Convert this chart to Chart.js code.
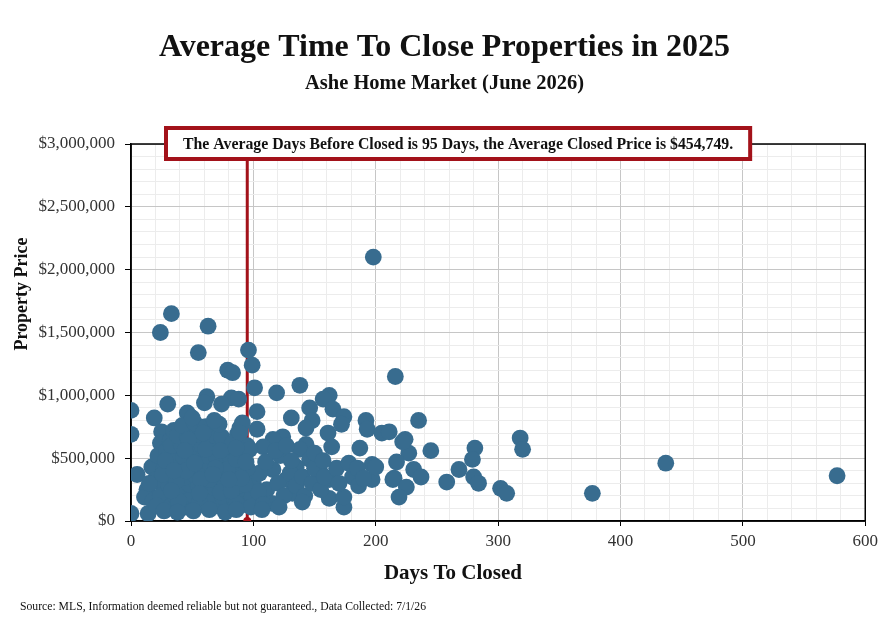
<!DOCTYPE html>
<html>
<head>
<meta charset="utf-8">
<title>Average Time To Close Properties in 2025</title>
<script src="https://cdn.jsdelivr.net/npm/chart.js@4.4.1/dist/chart.umd.min.js"></script>
<style>
html, body { margin:0; padding:0; background:#fff; }
#wrap { width:883px; height:622px; }
</style>
</head>
<body>
<div id="wrap"><canvas id="grafico" width="883" height="622"></canvas></div>
<script>
// -------------------------------------------
//  DATA
// -------------------------------------------

var daysToClose = [
    0, 0, 5, 0, 14, 19, 25, 24, 17, 13,
    11, 28, 30, 22, 20, 18, 26, 27, 24, 15,
    21, 29, 32, 35, 33, 24, 63, 55, 96, 99,
    79, 83, 62, 82, 74, 60, 46, 88, 103, 101,
    33, 45, 58, 70, 84, 36, 42, 50, 63, 75,
    90, 31, 40, 48, 55, 67, 78, 88, 34, 44,
    52, 60, 72, 81, 93, 30, 39, 47, 57, 65,
    76, 86, 36, 43, 53, 62, 70, 80, 91, 33,
    41, 50, 58, 68, 78, 38, 46, 55, 65, 74,
    87, 42, 52, 61, 72, 89, 50, 68, 56, 39,
    85, 92, 73, 26, 37, 64, 79, 47, 59, 83,
    95, 119, 138, 162, 157, 131, 146, 148, 143, 165,
    174, 172, 192, 193, 205, 161, 164, 187, 143, 138,
    124, 116, 103, 91, 89, 108, 97, 86, 162, 174,
    174, 197, 197, 214, 181, 162, 154, 146, 135, 127,
    116, 111, 132, 115, 99, 86, 100, 105, 110, 120,
    122, 125, 130, 135, 140, 142, 148, 150, 155, 158,
    168, 170, 178, 185, 186, 190, 200, 150, 157, 104,
    95, 93, 98, 108, 140, 131, 118, 127, 235, 224,
    227, 245, 217, 215, 225, 219, 231, 237, 258, 268,
    281, 279, 280, 284, 302, 307, 318, 320, 211, 216,
    198, 377, 437, 577, 222, 27, 38, 51, 64, 77,
    86, 107, 121, 33, 45, 57, 69, 82, 94, 28,
    61, 73, 86, 44, 52, 35, 67, 90, 56, 80
]

var closedPrices = [
    880000, 690000, 370000, 60000, 60000, 820000, 710000, 620000, 430000, 250000,
    190000, 90000, 930000, 520000, 330000, 160000, 280000, 420000, 200000, 300000,
    120000, 560000, 640000, 720000, 1650000, 1500000, 1550000, 1340000, 1360000, 1240000,
    1200000, 1180000, 990000, 980000, 930000, 940000, 860000, 970000, 870000, 1060000,
    120000, 110000, 130000, 120000, 110000, 200000, 190000, 210000, 200000, 190000,
    210000, 280000, 270000, 290000, 280000, 270000, 290000, 280000, 360000, 350000,
    370000, 360000, 350000, 370000, 360000, 440000, 450000, 430000, 440000, 450000,
    430000, 440000, 520000, 510000, 530000, 520000, 510000, 530000, 520000, 600000,
    610000, 590000, 600000, 610000, 590000, 680000, 670000, 690000, 680000, 670000,
    690000, 760000, 780000, 750000, 770000, 740000, 820000, 800000, 150000, 160000,
    160000, 130000, 230000, 370000, 320000, 330000, 410000, 650000, 700000, 620000,
    600000, 1020000, 1080000, 1000000, 970000, 820000, 900000, 800000, 740000, 890000,
    830000, 770000, 800000, 730000, 700000, 700000, 590000, 580000, 610000, 570000,
    670000, 650000, 730000, 780000, 700000, 590000, 570000, 490000, 180000, 110000,
    190000, 450000, 330000, 330000, 350000, 330000, 410000, 490000, 430000, 330000,
    410000, 250000, 220000, 140000, 190000, 140000, 300000, 380000, 470000, 300000,
    520000, 200000, 380000, 280000, 350000, 200000, 300000, 420000, 250000, 350000,
    420000, 300000, 460000, 420000, 280000, 340000, 430000, 540000, 480000, 230000,
    420000, 290000, 110000, 130000, 150000, 480000, 560000, 600000, 800000, 650000,
    540000, 560000, 470000, 340000, 270000, 190000, 410000, 350000, 310000, 410000,
    580000, 490000, 350000, 300000, 260000, 220000, 660000, 570000, 710000, 1150000,
    2100000, 220000, 460000, 360000, 630000, 80000, 70000, 80000, 90000, 70000,
    90000, 90000, 110000, 240000, 400000, 330000, 420000, 240000, 470000, 480000,
    570000, 560000, 580000, 560000, 460000, 400000, 370000, 340000, 220000, 330000
]

var dayTicks = [0, 100, 200, 300, 400, 500, 600]
var priceTicks = [0, 500000, 1000000, 1500000, 2000000, 2500000, 3000000]

var avgDays = 95
var avgPrice = 454749

var chartTitle = "Average Time To Close Properties in 2025"
var chartSubtitle = "Ashe Home Market (June 2026)"
var xTitle = "Days To Closed"
var yTitle = "Property Price"
var sourceNote = "Source: MLS, Information deemed reliable but not guaranteed., Data Collected: 7/1/26"

// -------------------------------------------
//  CHART
// -------------------------------------------

const ModGrafico = (function() {

    var serif = "'Liberation Serif', 'DejaVu Serif', serif"
    var pontoCor = "#386c8f"
    var vermelho = "#a3121a"

    function money(v) {
        return "$" + Number(v).toLocaleString("en-US")
    }

    function montarPontos() {
        var out = []
        for (var i = 0; i < daysToClose.length; i++) {
            out.push({ x: daysToClose[i], y: closedPrices[i] })
        }
        return out
    }

    function gridCor(lista) {
        return function(c) {
            if (!c.tick) return "#ececec"
            return lista.indexOf(c.tick.value) >= 0 ? "#c6c6c6" : "#ececec"
        }
    }

    function tickCor(lista) {
        return function(c) {
            if (!c.tick) return "rgba(0,0,0,0)"
            return lista.indexOf(c.tick.value) >= 0 ? "#000" : "rgba(0,0,0,0)"
        }
    }

    // borda da área + textos extras (nota, títulos dos eixos, fonte)
    var extras = {
        id: "extras",
        beforeDatasetsDraw: function(chart) {
            var a = chart.chartArea
            var ctx = chart.ctx
            ctx.save()
            ctx.strokeStyle = "#000"
            ctx.lineWidth = 1.5
            ctx.strokeRect(a.left, a.top, a.right - a.left, a.bottom - a.top)
            ctx.restore()
        },
        afterDraw: function(chart) {
            var a = chart.chartArea
            var ctx = chart.ctx
            var nota = "The Average Days Before Closed is " + avgDays + " Days, the Average Closed Price is " + money(avgPrice) + "."
            ctx.save()

            ctx.font = "bold 15.8px " + serif
            var w = ctx.measureText(nota).width + 34
            var left = a.left + 35
            var top = a.top - 16
            var h = 31
            ctx.fillStyle = "#fff"
            ctx.fillRect(left, top, w, h)
            ctx.strokeStyle = vermelho
            ctx.lineWidth = 4
            ctx.strokeRect(left, top, w, h)
            ctx.fillStyle = "#111"
            ctx.textAlign = "center"
            ctx.textBaseline = "middle"
            ctx.fillText(nota, left + w / 2, top + h / 2 + 1)

            ctx.font = "bold 21px " + serif
            ctx.fillText(xTitle, 453, 574)

            ctx.save()
            ctx.translate(22, 294)
            ctx.rotate(-Math.PI / 2)
            ctx.font = "bold 18px " + serif
            ctx.fillText(yTitle, 0, 0)
            ctx.restore()

            ctx.font = "11.7px " + serif
            ctx.textAlign = "left"
            ctx.fillText(sourceNote, 20, 607)
            ctx.restore()
        }
    }

    function init() {
        var el = document.getElementById("grafico")
        if (!el) return

        new Chart(el, {
            type: "scatter",
            data: {
                datasets: [
                    {
                        data: montarPontos(),
                        backgroundColor: pontoCor,
                        borderWidth: 0,
                        pointRadius: 8.4,
                        pointHoverRadius: 8.4,
                        order: 1
                    },
                    {
                        type: "line",
                        data: [{ x: avgDays, y: 0 }, { x: avgDays, y: 3000000 }],
                        borderColor: vermelho,
                        borderWidth: 3,
                        pointRadius: [4, 0],
                        pointBackgroundColor: vermelho,
                        pointBorderWidth: 0,
                        order: 2
                    }
                ]
            },
            options: {
                responsive: false,
                animation: false,
                devicePixelRatio: 1,
                layout: { padding: { left: 22, right: 16, top: 0, bottom: 0 } },
                plugins: {
                    legend: { display: false },
                    tooltip: { enabled: false },
                    title: {
                        display: true,
                        text: chartTitle,
                        color: "#111",
                        font: { family: serif, size: 32, weight: "bold" },
                        padding: { top: 29, bottom: 1 }
                    },
                    subtitle: {
                        display: true,
                        text: chartSubtitle,
                        color: "#111",
                        font: { family: serif, size: 20.5, weight: "bold" },
                        padding: { top: 3, bottom: 48 }
                    }
                },
                scales: {
                    x: {
                        type: "linear",
                        min: 0,
                        max: 600,
                        afterFit: function(s) { s.height = 101 },
                        ticks: {
                            stepSize: 20,
                            autoSkip: false,
                            maxRotation: 0,
                            color: "#333",
                            padding: 5,
                            font: { family: serif, size: 17 },
                            callback: function(v) { return dayTicks.indexOf(v) >= 0 ? String(v) : "" }
                        },
                        grid: { color: gridCor(dayTicks), tickColor: tickCor(dayTicks), tickLength: 5 },
                        border: { color: "#000", width: 1.5 }
                    },
                    y: {
                        type: "linear",
                        min: 0,
                        max: 3000000,
                        afterFit: function(s) { s.width = 109 },
                        ticks: {
                            stepSize: 100000,
                            autoSkip: false,
                            color: "#333",
                            padding: 10,
                            font: { family: serif, size: 17 },
                            callback: function(v) { return priceTicks.indexOf(v) >= 0 ? money(v) : "" }
                        },
                        grid: { color: gridCor(priceTicks), tickColor: tickCor(priceTicks), tickLength: 6 },
                        border: { color: "#000", width: 1.5 }
                    }
                }
            },
            plugins: [extras]
        })
    }

    return { init: init }

})()

document.addEventListener("DOMContentLoaded", function() {
    ModGrafico.init()
})
</script>
</body>
</html>
